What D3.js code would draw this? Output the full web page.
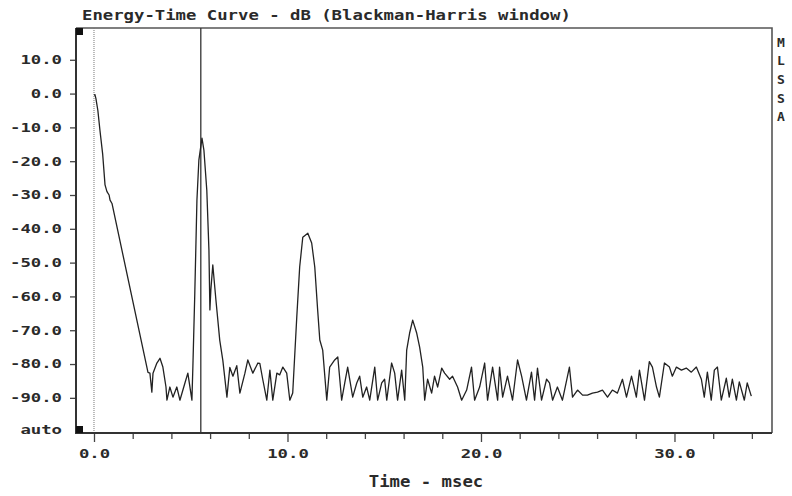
<!DOCTYPE html>
<html>
<head>
<meta charset="utf-8">
<script src="https://cdn.jsdelivr.net/npm/d3@7"></script>
<style>
  body { margin: 0; background: #fff; }
  svg text { font-family: "DejaVu Sans Mono", "Liberation Mono", monospace; font-weight: bold; fill: #2a2a2a; }
</style>
</head>
<body>
<div id="chart"></div>
<script>
// energy-time curve (msec / dB)
var etcTime = [0.0, 0.05, 0.1, 0.2, 0.31, 0.45, 0.57, 0.67, 0.78, 0.83, 0.93,
  2.79, 2.89, 2.99, 3.05, 3.25, 3.41, 3.56, 3.72, 3.77, 3.92, 4.08, 4.28, 4.44, 4.70, 4.85, 5.06, 5.11,
  5.21, 5.32, 5.42, 5.58, 5.68, 5.83, 5.94, 5.99, 6.04, 6.14, 6.30, 6.50, 6.66, 6.87,
  7.02, 7.18, 7.38, 7.54, 7.80, 7.95, 8.21, 8.47, 8.57, 8.72, 8.93, 9.09, 9.24, 9.45, 9.60, 9.76, 9.96,
  10.12, 10.27, 10.48, 10.63, 10.79, 11.05, 11.25, 11.41, 11.56, 11.67, 11.82, 12.03, 12.18, 12.44, 12.60,
  12.80, 12.96, 13.11, 13.37, 13.58, 13.73, 13.89, 14.09, 14.25, 14.51, 14.66, 14.87, 15.02, 15.13,
  15.38, 15.54, 15.69, 15.90, 16.06, 16.16, 16.31, 16.47, 16.68, 16.83, 16.99, 17.09, 17.24, 17.45,
  17.60, 17.76, 17.97, 18.12, 18.38, 18.53, 18.79, 19.00, 19.26, 19.51, 19.67, 19.93, 20.19, 20.34,
  20.60, 20.86, 20.96, 21.12, 21.37, 21.63, 21.89, 22.10, 22.35, 22.61, 22.77, 22.92, 23.13, 23.39,
  23.54, 23.70, 23.95, 24.21, 24.57, 24.73, 24.99, 25.25, 25.50, 25.76, 26.02, 26.28, 26.54, 26.79,
  27.05, 27.31, 27.52, 27.78, 28.03, 28.19, 28.45, 28.70, 28.86, 29.07, 29.22, 29.48, 29.74, 29.89,
  30.10, 30.36, 30.61, 30.87, 31.13, 31.39, 31.54, 31.70, 31.90, 32.06, 32.22, 32.42, 32.68, 32.83,
  32.99, 33.20, 33.35, 33.61, 33.76, 33.97];
var etcDb = [-0.5, -0.3, -1.5, -5, -11, -18, -27, -29, -30, -31.5, -32.5,
  -82.5, -82.7, -88.3, -82.7, -79.7, -78.3, -80.9, -86.8, -90.7, -86.8, -89.8, -86.8, -90.7, -85.6, -82.7, -90.7, -80.9,
  -59, -31.5, -19.7, -13.2, -16.7, -28.6, -46.3, -64, -58, -50.7, -61, -73, -79, -89.8,
  -81, -83.6, -80.5, -88.6, -82.7, -78.8, -82.7, -79.7, -79.8, -84.5, -90.7, -81.8, -90.7, -82.7, -83.2, -80.9, -82.7,
  -90.7, -88.6, -66.1, -51.3, -42.5, -41.3, -44.2, -51.3, -64.1, -72.9, -75.9, -90.7, -80.9, -78.8, -77.9,
  -90.7, -85.6, -80.9, -89.8, -85.6, -83.6, -89.8, -86.8, -90.7, -80.9, -90.7, -85.6, -84.5, -90.7,
  -79.7, -82.7, -90.7, -81.8, -90.7, -75.9, -70.9, -67, -70.9, -75, -80.9, -90.7, -84.5, -88.6,
  -83.6, -86.8, -81.2, -82.7, -84.5, -83.6, -86.8, -90.7, -87.7, -80.9, -90.7, -86.8, -79.7, -90.7,
  -80.9, -90.7, -80.9, -89.8, -83.6, -90.7, -78.8, -83.6, -90.7, -82.4, -90.7, -81.2, -90.7, -84.5,
  -85.6, -90.7, -86.8, -90.7, -80.9, -89.8, -87.7, -89.2, -89.2, -88.6, -88.3, -87.7, -89.8, -87.7,
  -88.6, -84.5, -89.8, -83.6, -89.8, -81.8, -90.7, -79.3, -80.9, -86.8, -89.8, -79.7, -80.9, -83.6,
  -80.9, -81.8, -81.2, -82.4, -80.9, -84.5, -89.8, -82.4, -90.7, -81.8, -80.9, -90.7, -84.2, -89.8,
  -84.5, -90.7, -85.3, -90.7, -85.6, -89.5];

var yTicks = [10, 0, -10, -20, -30, -40, -50, -60, -70, -80, -90];
var xMajor = [0, 10, 20, 30];
var xMinor = [2, 4, 6, 8, 12, 14, 16, 18, 22, 24, 26, 28, 32, 34];
var cursorTime = 5.52;
var markerTime = 0;
var title = "Energy-Time Curve - dB (Blackman-Harris window)";
var xTitle = "Time - msec";
var sideLabel = ["M", "L", "S", "S", "A"];

var width = 792, height = 496;
var plotL = 76, plotR = 772, plotT = 28, plotB = 433;
var charW = 10.4;

var svg = d3.select("#chart").append("svg").attr("width", width).attr("height", height);

var x = d3.scaleLinear().domain([-0.93, 35.04]).range([plotL, plotR]);
var y = d3.scaleLinear().domain([-100.4, 19.4]).range([plotB, plotT]);

function fmt(d) { return d.toFixed(1); }
function stretch(sel) {
  sel.each(function() {
    var t = d3.select(this);
    t.attr("textLength", t.text().length * charW).attr("lengthAdjust", "spacingAndGlyphs");
  });
}

// title
svg.append("text").attr("x", 82).attr("y", 20).style("font-size", "14px")
  .text(title).call(stretch);

// frame top + right
svg.append("path").attr("d", "M" + plotL + "," + plotT + "H" + plotR + "V" + plotB)
  .attr("fill", "none").attr("stroke", "#555").attr("stroke-width", 1.6);

// dotted zero marker and cursor
svg.append("line").attr("x1", x(markerTime)).attr("x2", x(markerTime)).attr("y1", plotT).attr("y2", plotB)
  .attr("stroke", "#777").attr("stroke-width", 1).attr("stroke-dasharray", "1,1");
svg.append("line").attr("x1", x(cursorTime)).attr("x2", x(cursorTime)).attr("y1", plotT).attr("y2", plotB)
  .attr("stroke", "#333").attr("stroke-width", 1.3);

// the trace
var pts = etcTime.map(function(t, i) { return [t, etcDb[i]]; });
svg.append("path").datum(pts)
  .attr("d", d3.line().x(function(d) { return x(d[0]); }).y(function(d) { return y(d[1]); }))
  .attr("fill", "none").attr("stroke", "#222").attr("stroke-width", 1.3).attr("stroke-linejoin", "round");

// y axis
var yAxis = svg.append("g").attr("transform", "translate(" + plotL + ",0)")
  .call(d3.axisLeft(y).tickValues(yTicks).tickFormat(fmt).tickSize(6).tickPadding(8));
yAxis.select(".domain").remove();
yAxis.selectAll("line").attr("stroke", "#444").attr("stroke-width", 1.3);
yAxis.selectAll("text").style("font-size", "12px").attr("fill", "#2a2a2a").call(stretch);
svg.append("text").attr("x", 62).attr("y", y.range()[0]).attr("dy", "0.1em").attr("text-anchor", "end")
  .style("font-size", "12px").text("auto").call(stretch);

// x axis
var xMin = svg.append("g").attr("transform", "translate(0," + plotB + ")")
  .call(d3.axisBottom(x).tickValues(xMinor).tickFormat("").tickSize(6));
xMin.select(".domain").remove();
xMin.selectAll("line").attr("stroke", "#444").attr("stroke-width", 1.3);
var xMaj = svg.append("g").attr("transform", "translate(0," + plotB + ")")
  .call(d3.axisBottom(x).tickValues(xMajor).tickFormat(fmt).tickSize(9).tickPadding(7));
xMaj.select(".domain").remove();
xMaj.selectAll("line").attr("stroke", "#444").attr("stroke-width", 1.3);
xMaj.selectAll("text").style("font-size", "12px").attr("fill", "#2a2a2a").call(stretch);

svg.append("text").attr("x", 426).attr("y", 487).attr("text-anchor", "middle").style("font-size", "15px")
  .text(xTitle).call(stretch);

// left and bottom axis lines
svg.append("path").attr("d", "M" + plotL + "," + plotT + "V" + plotB + "H" + plotR)
  .attr("fill", "none").attr("stroke", "#333").attr("stroke-width", 2);

// end markers
var dom = x.domain();
svg.selectAll("rect.mark").data(y.domain()).enter().append("rect").attr("class", "mark")
  .attr("x", x(dom[0])).attr("y", function(d, i) { return i == 0 ? y(d) - 7 : y(d); })
  .attr("width", 7).attr("height", 7).attr("fill", "#111");

// MLSSA down the right side
svg.selectAll("text.side").data(sideLabel).enter().append("text").attr("class", "side")
  .attr("x", 781).attr("y", function(d, i) { return 42 + i * 18.7; }).attr("dy", "0.36em")
  .attr("text-anchor", "middle").style("font-size", "13px").text(function(d) { return d; });
</script>
</body>
</html>
